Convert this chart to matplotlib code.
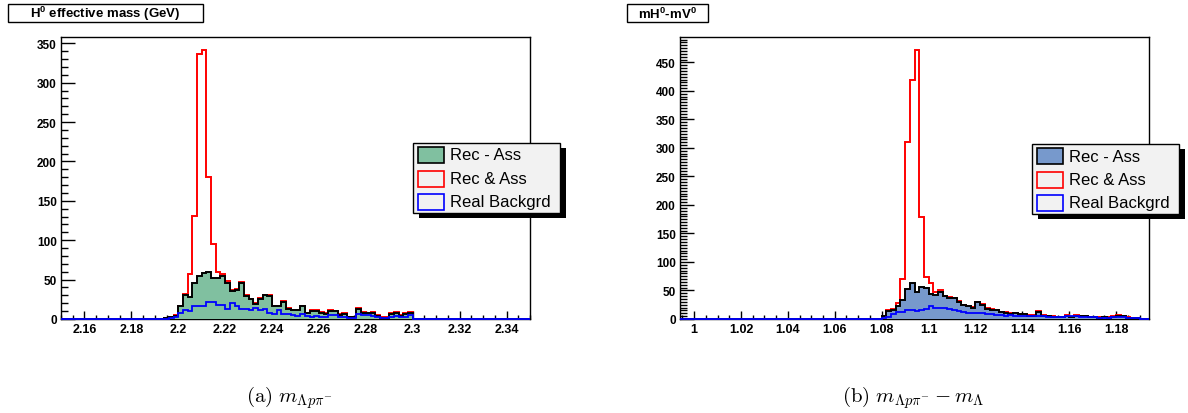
import numpy as np
import matplotlib.pyplot as plt
from matplotlib.patches import Rectangle
from matplotlib.ticker import MultipleLocator, FuncFormatter

plt.rcParams['font.family'] = ['Liberation Sans', 'DejaVu Sans']
plt.rcParams['font.weight'] = 'bold'
plt.rcParams['mathtext.fontset'] = 'custom'
plt.rcParams['mathtext.rm'] = 'Liberation Sans:bold'
plt.rcParams['mathtext.bf'] = 'Liberation Sans:bold'

n_bins = 100

# (a) H0 effective mass, 100 bins of 0.002 GeV
mass_range = (2.15, 2.35)
mass_first_bin = 22  # bin of 2.194
mass_rec_not_ass = [1, 2, 4, 16, 31, 28, 46, 54, 58, 60, 52, 52, 54, 46, 35, 37, 46, 29, 25, 19,
                    26, 30, 29, 16, 16, 22, 13, 11, 11, 16, 7, 10, 10, 8, 6, 10, 10, 5, 6, 2,
                    2, 13, 8, 8, 8, 4, 1, 1, 6, 8, 4, 6, 8]
mass_rec_and_ass = [1, 3, 5, 17, 32, 57, 131, 337, 341, 180, 95, 60, 57, 48, 37, 38, 47, 30, 26, 20,
                    27, 31, 30, 17, 17, 23, 14, 12, 12, 17, 8, 11, 11, 9, 7, 11, 10, 6, 7, 3,
                    2, 14, 9, 8, 9, 5, 2, 2, 7, 9, 5, 7, 9]
mass_real_bkg = [0, 1, 2, 8, 12, 10, 17, 16, 17, 22, 21, 18, 18, 13, 20, 16, 13, 13, 11, 14,
                 11, 13, 7, 6, 12, 6, 6, 5, 4, 6, 4, 3, 4, 2, 3, 5, 5, 3, 3, 1,
                 1, 6, 5, 5, 4, 2, 1, 1, 3, 4, 2, 3, 5]

# (b) mH0 - mV0, 100 bins of 0.002 GeV
diff_range = (0.994, 1.194)
diff_first_bin = 43  # bin of 1.080
diff_rec_not_ass = [5, 14, 15, 23, 33, 52, 63, 47, 56, 54, 44, 42, 48, 40, 37, 36, 30, 24, 22, 20,
                    29, 25, 18, 16, 15, 12, 11, 9, 10, 8, 8, 6, 6, 13, 6, 5, 4, 3, 3, 6,
                    3, 6, 5, 5, 3, 3, 2, 3, 2, 4, 6, 5, 2, 1, 1]
diff_rec_and_ass = [5, 15, 18, 28, 71, 310, 420, 471, 179, 73, 64, 47, 50, 41, 38, 37, 31, 25, 23, 21,
                    30, 26, 19, 17, 15, 13, 12, 10, 10, 9, 9, 7, 7, 14, 7, 6, 5, 4, 4, 7,
                    4, 7, 6, 5, 4, 4, 3, 3, 3, 5, 7, 5, 3, 2, 1]
diff_real_bkg = [1, 4, 8, 12, 13, 16, 15, 14, 16, 17, 22, 19, 20, 20, 18, 16, 14, 12, 11, 10,
                 11, 10, 9, 8, 7, 7, 6, 7, 6, 5, 6, 5, 5, 6, 5, 4, 4, 3, 4, 5,
                 5, 5, 4, 4, 3, 3, 2, 2, 2, 3, 3, 3, 2, 1, 1]

legend_labels = ['Rec - Ass', 'Rec & Ass', 'Real Backgrd']

W, H = 1188, 414


def fx(x):
    return x / W


def fy(y):
    return 1 - y / H


def full(vals, first):
    h = np.zeros(n_bins)
    h[first:first + len(vals)] = vals
    return h


def draw_panel(ax, xr, first, rec_not_ass, rec_and_ass, real_bkg, fill_color, minor_y):
    edges = np.linspace(xr[0], xr[1], n_bins + 1)
    red = full(rec_and_ass, first)
    black = full(rec_not_ass, first)
    blue = full(real_bkg, first)
    ax.stairs(red, edges, baseline=0, color='red', lw=1.4, clip_on=False, zorder=2)
    ax.stairs(black, edges, baseline=0, fill=True, color=fill_color, lw=0, zorder=3)
    ax.stairs(black, edges, baseline=0, color='black', lw=1.4, clip_on=False, zorder=4)
    ax.stairs(blue, edges, baseline=0, color='blue', lw=1.3, clip_on=False, zorder=5)
    ax.set_xlim(*xr)
    ax.set_ylim(0, 1.05 * red.max())

    ax.xaxis.set_major_locator(MultipleLocator(0.02))
    ax.xaxis.set_minor_locator(MultipleLocator(0.005))
    ax.yaxis.set_major_locator(MultipleLocator(50))
    ax.yaxis.set_minor_locator(MultipleLocator(minor_y))
    ax.xaxis.set_major_formatter(FuncFormatter(lambda v, p: f'{v:g}'))
    ax.tick_params(axis='y', which='major', direction='in', length=10, width=1,
                   labelsize=8.5, pad=3)
    ax.tick_params(axis='y', which='minor', direction='in', length=5, width=1)
    ax.tick_params(axis='x', which='major', direction='in', length=6, width=1,
                   labelsize=9, pad=3)
    ax.tick_params(axis='x', which='minor', direction='in', length=3, width=1)
    for s in ax.spines.values():
        s.set_linewidth(1)


def draw_title(fig, x0, x1, text):
    fig.add_artist(Rectangle((fx(x0), fy(23)), fx(x1 - x0), 18 / H, transform=fig.transFigure,
                             fc='white', ec='black', lw=1))
    fig.text(fx((x0 + x1) / 2), fy(14), text, ha='center', va='center', fontsize=9.5,
             fontweight='bold')


def draw_legend(fig, x0, y0, fill_color):
    w, h = 147, 70
    fig.add_artist(Rectangle((fx(x0 + 6), fy(y0 + h + 5)), fx(w), h / H,
                             transform=fig.transFigure, fc='black', ec='black', lw=0, zorder=10))
    fig.add_artist(Rectangle((fx(x0), fy(y0 + h)), fx(w), h / H,
                             transform=fig.transFigure, fc='#f2f2f2', ec='black', lw=1, zorder=11))
    styles = [(fill_color, 'black'), ('none', 'red'), ('none', 'blue')]
    for i, (label, (fc, ec)) in enumerate(zip(legend_labels, styles)):
        yc = y0 + 12 + 23.5 * i
        fig.add_artist(Rectangle((fx(x0 + 5), fy(yc + 8)), fx(26), 16 / H,
                                 transform=fig.transFigure, fc=fc, ec=ec, lw=1.2, zorder=12))
        fig.text(fx(x0 + 37), fy(yc), label, ha='left', va='center', fontsize=12,
                 fontweight='normal', zorder=13)


fig = plt.figure(figsize=(W / 100, H / 100), dpi=100)

ax1 = fig.add_axes([fx(61), fy(320), fx(469), 282 / H])
draw_panel(ax1, mass_range, mass_first_bin, mass_rec_not_ass, mass_rec_and_ass, mass_real_bkg,
           '#80c0a0', 10)
ax2 = fig.add_axes([fx(680), fy(320), fx(469), 282 / H])
draw_panel(ax2, diff_range, diff_first_bin, diff_rec_not_ass, diff_rec_and_ass, diff_real_bkg,
           '#7799cc', 5)

draw_title(fig, 8, 203, r'H$^{0}$ effective mass (GeV)')
draw_title(fig, 627, 708, r'mH$^{0}$-mV$^{0}$')

draw_legend(fig, 413, 144, '#80c0a0')
draw_legend(fig, 1032, 145, '#7799cc')

fig.text(fx(289), fy(398), r'$\mathrm{(a)}\ m_{\Lambda p\pi^{-}}$', ha='center', va='center',
         fontsize=15, math_fontfamily='cm')
fig.text(fx(913), fy(398), r'$\mathrm{(b)}\ m_{\Lambda p\pi^{-}} - m_{\Lambda}$', ha='center',
         va='center', fontsize=15, math_fontfamily='cm')

fig.savefig('out.png', dpi=100)
